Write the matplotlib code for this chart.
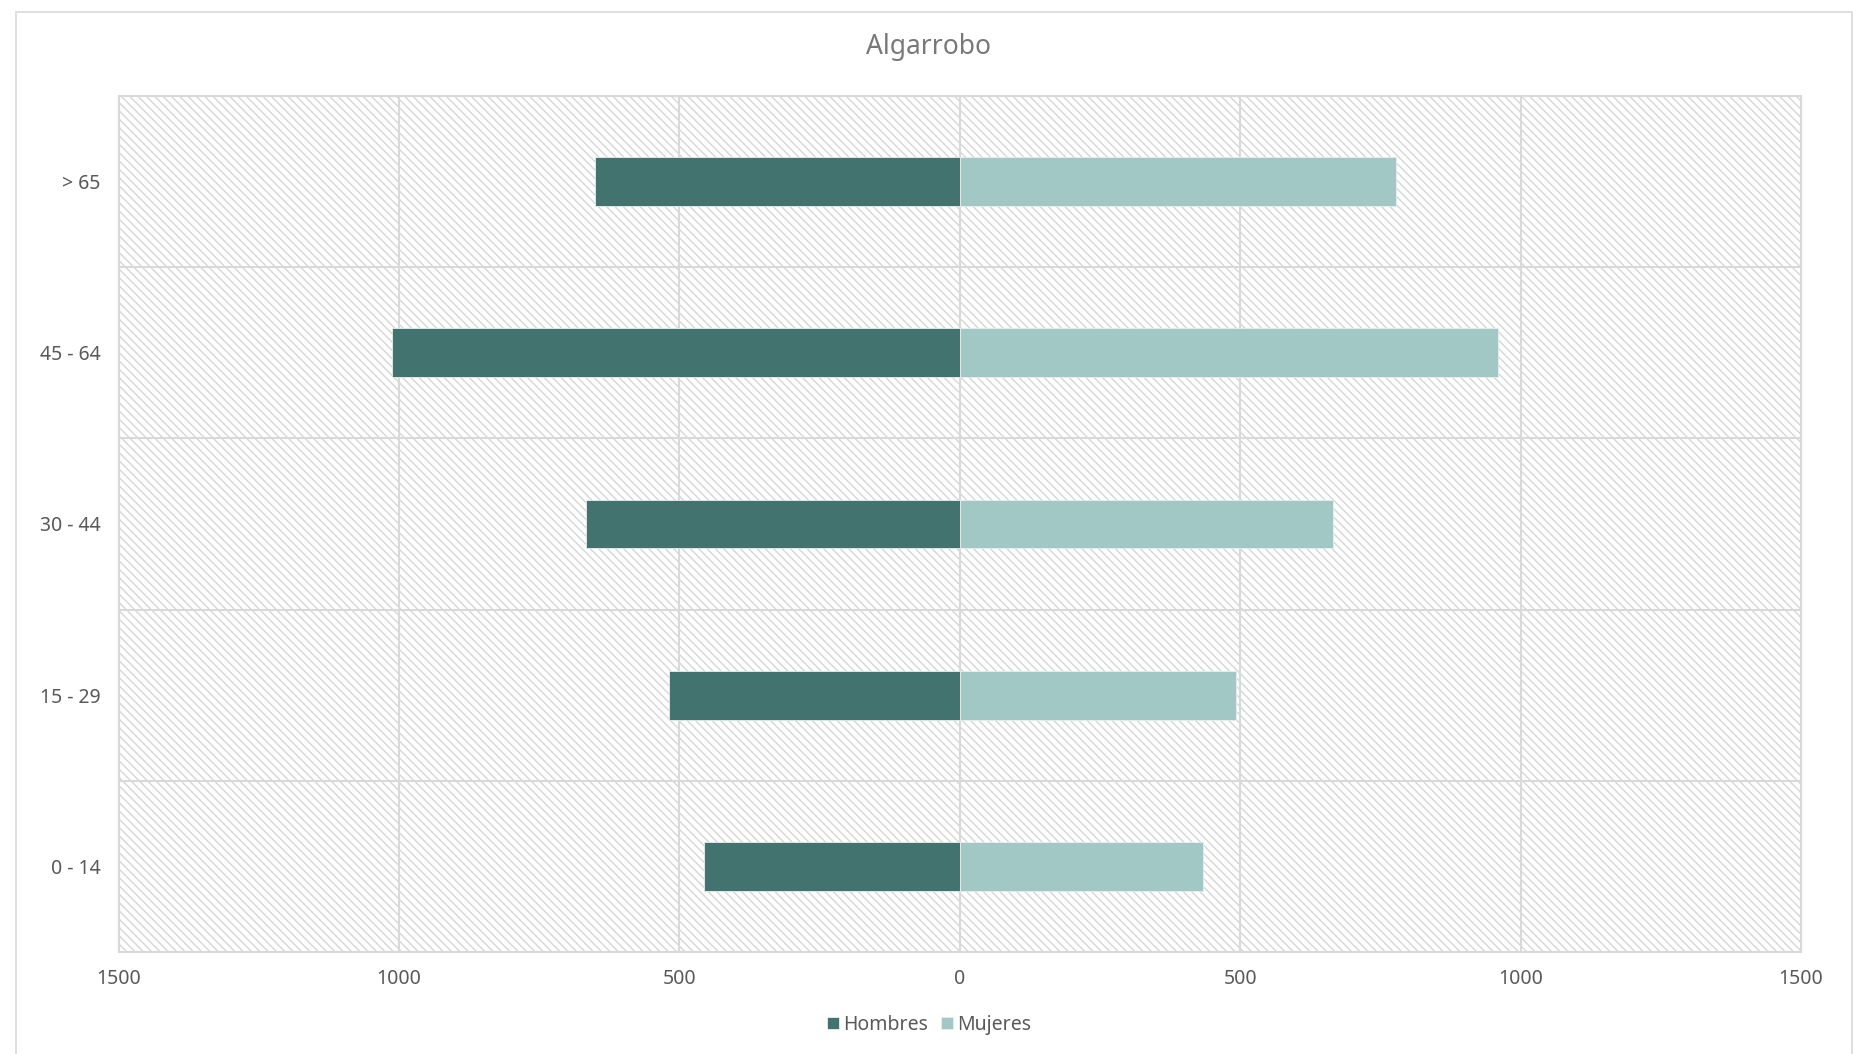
import matplotlib.pyplot as plt
from matplotlib.patches import Rectangle
import numpy as np

plt.rcParams['font.family'] = ['Noto Sans', 'DejaVu Sans']
plt.rcParams['hatch.color'] = '#d6d6d6'
plt.rcParams['hatch.linewidth'] = 1.0

# Data (bottom to top)
grupos = ['0 - 14', '15 - 29', '30 - 44', '45 - 64', '> 65']
hombres = [456, 518, 667, 1013, 651]
mujeres = [433, 493, 666, 960, 778]
xticks = [-1500, -1000, -500, 0, 500, 1000, 1500]

c_hombres = '#42736e'
c_mujeres = '#a2c8c5'
grid_c = '#d9d9d9'
txt_c = '#595959'

fig = plt.figure(figsize=(18.58, 10.54), dpi=100)
ax = fig.add_axes([0.0638, 0.0968, 0.9055, 0.8121])

# outer chart border
fig.patches.append(Rectangle((16 / 1858, -0.01), (1852 - 16) / 1858, 1.0 - 12 / 1054 + 0.01,
                             transform=fig.transFigure, fill=False,
                             edgecolor=grid_c, linewidth=1.2))

# hatched plot background
ax.add_patch(Rectangle((0, 0), 1, 1, transform=ax.transAxes, facecolor='white',
                       hatch='\\\\\\\\', edgecolor='#d6d6d6', linewidth=0, zorder=0))

y = np.arange(len(grupos))
h = 0.286
ax.barh(y, -np.array(hombres), height=h, color=c_hombres, edgecolor='#e8efee',
        linewidth=0.6, label='Hombres', zorder=3)
ax.barh(y, mujeres, height=h, color=c_mujeres, edgecolor='#e8efee',
        linewidth=0.6, label='Mujeres', zorder=3)

ax.set_xlim(-1500, 1500)
ax.set_ylim(-0.5, len(grupos) - 0.5)
ax.set_xticks(xticks)
ax.set_xticklabels([str(abs(v)) for v in xticks])
ax.set_yticks(y)
ax.set_yticklabels(grupos)

for v in xticks:
    ax.axvline(v, color=grid_c, linewidth=1.5, zorder=1)
for b in np.arange(-0.5, len(grupos), 1.0):
    ax.axhline(b, color=grid_c, linewidth=1.5, zorder=1)

for s in ax.spines.values():
    s.set_color(grid_c)
    s.set_linewidth(1.5)

ax.tick_params(axis='both', length=0, labelsize=14, colors=txt_c)
ax.tick_params(axis='x', pad=12)
ax.tick_params(axis='y', pad=13)

fig.text(0.5, 1 - 47 / 1054, 'Algarrobo', ha='center', va='center',
         fontsize=19, color='#787878')

leg = fig.legend(loc='center', bbox_to_anchor=(0.5, 1 - 1025 / 1054), ncol=2,
                 frameon=False, fontsize=14, handlelength=0.6, handleheight=0.6,
                 handletextpad=0.2, columnspacing=0.7)
for t in leg.get_texts():
    t.set_color(txt_c)

fig.savefig('out.png', dpi=100)
